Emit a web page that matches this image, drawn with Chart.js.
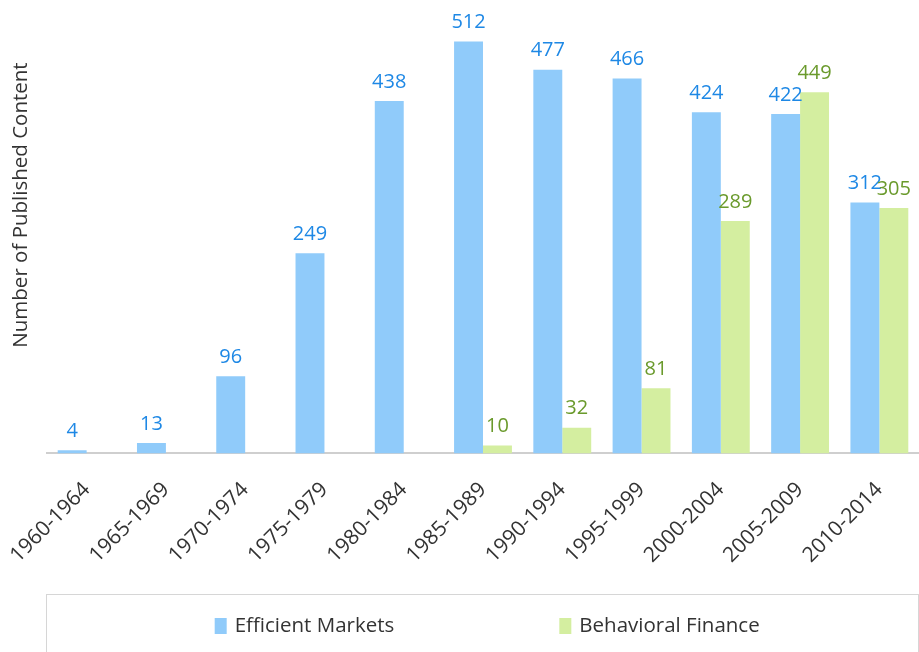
<!DOCTYPE html>
<html>
<head>
<meta charset="utf-8">
<script src="https://cdn.jsdelivr.net/npm/chart.js@4/dist/chart.umd.min.js"></script>
<style>
html,body{margin:0;padding:0;background:#fff;}
#wrap{width:919px;height:652px;position:relative;}
</style>
</head>
<body>
<div id="wrap"><canvas id="c" width="919" height="652"></canvas></div>
<script>
const categories = ["1960-1964","1965-1969","1970-1974","1975-1979","1980-1984","1985-1989","1990-1994","1995-1999","2000-2004","2005-2009","2010-2014"];
const efficientMarkets = [4, 13, 96, 249, 438, 512, 477, 466, 424, 422, 312];
const behavioralFinance = [null, null, null, null, null, 10, 32, 81, 289, 449, 305];
const seriesNames = ["Efficient Markets", "Behavioral Finance"];
const yTitle = "Number of Published Content";

const FONT = "'Open Sans', 'Segoe UI', sans-serif";
const barColors = ["#90CBFA", "#D4EEA0"];
const labelColors = ["#1E88E5", "#6A9A2C"];

const valueLabels = {
  id: 'valueLabels',
  afterDatasetsDraw(chart) {
    const ctx = chart.ctx;
    ctx.save();
    ctx.font = "20px " + FONT;
    ctx.textAlign = 'center';
    ctx.textBaseline = 'bottom';
    chart.data.datasets.forEach((ds, i) => {
      const meta = chart.getDatasetMeta(i);
      meta.data.forEach((el, j) => {
        const v = ds.data[j];
        if (v === null || v === undefined) return;
        ctx.fillStyle = labelColors[i];
        ctx.fillText(String(v), el.x, el.y - 9);
      });
    });
    ctx.restore();
  }
};

const yTitlePlugin = {
  id: 'yTitlePlugin',
  afterDraw(chart) {
    const ctx = chart.ctx;
    ctx.save();
    ctx.font = "20.5px " + FONT;
    ctx.fillStyle = "#333";
    ctx.textAlign = 'center';
    ctx.textBaseline = 'middle';
    ctx.translate(21, 205);
    ctx.rotate(-Math.PI / 2);
    ctx.fillText(yTitle, 0, 0);
    ctx.restore();
  }
};

const legendBox = {
  id: 'legendBox',
  afterDraw(chart) {
    const ctx = chart.ctx;
    const left = 46.5, top = 594.5, width = 872, height = 80;
    ctx.save();
    ctx.strokeStyle = "#D6D6D6";
    ctx.lineWidth = 1;
    ctx.strokeRect(left, top, width, height);
    const cx = left + width / 2;
    const centers = [cx - 178, cx + 177];
    const cy = 626;
    ctx.font = "20.5px " + FONT;
    ctx.textBaseline = 'middle';
    ctx.textAlign = 'left';
    seriesNames.forEach((name, i) => {
      const tw = ctx.measureText(name).width;
      const total = 12 + 8 + tw;
      const x0 = centers[i] - total / 2;
      ctx.fillStyle = barColors[i];
      ctx.fillRect(x0, cy - 8, 12, 16);
      ctx.fillStyle = "#333";
      ctx.fillText(name, x0 + 20, cy);
    });
    ctx.restore();
  }
};

new Chart(document.getElementById('c'), {
  type: 'bar',
  data: {
    labels: categories,
    datasets: [
      { label: seriesNames[0], data: efficientMarkets, backgroundColor: barColors[0] },
      { label: seriesNames[1], data: behavioralFinance, backgroundColor: barColors[1] }
    ]
  },
  options: {
    responsive: false,
    animation: false,
    layout: { padding: { left: 47, right: 0, top: 11, bottom: 68 } },
    datasets: { bar: { categoryPercentage: 0.73, barPercentage: 1.0 } },
    plugins: { legend: { display: false }, tooltip: { enabled: false } },
    scales: {
      x: {
        grid: { display: false },
        border: { display: true, color: "#CFCFCF", width: 2 },
        afterFit(scale) { scale.paddingLeft = 0; scale.paddingRight = 0; },
        ticks: {
          autoSkip: false, maxRotation: 45, minRotation: 45, padding: 16,
          color: "#333", font: { family: FONT, size: 21 }
        }
      },
      y: {
        display: false,
        min: 0, max: 550
      }
    }
  },
  plugins: [valueLabels, yTitlePlugin, legendBox]
});
</script>
</body>
</html>
